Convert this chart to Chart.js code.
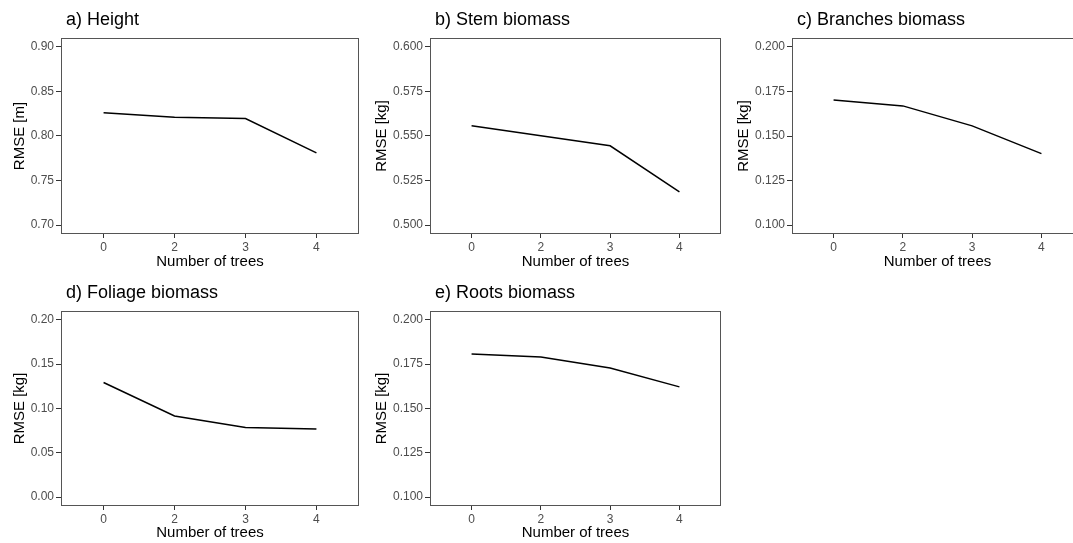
<!DOCTYPE html>
<html>
<head>
<meta charset="utf-8">
<script src="https://cdn.jsdelivr.net/npm/chart.js@4"></script>
<style>
html,body{margin:0;padding:0;background:#fff;width:1073px;height:543px;overflow:hidden;}
#wrap{position:relative;width:1073px;height:543px;overflow:hidden;}
canvas{position:absolute;}
</style>
</head>
<body>
<div id="wrap"></div>
<script>
// ---- data ----
const categories = ['0', '2', '3', '4'];

const heightRmse   = [0.826, 0.821, 0.8196, 0.781];
const stemRmse     = [0.5557, 0.5501, 0.5445, 0.5187];
const branchesRmse = [0.1702, 0.1669, 0.1557, 0.1401];
const foliageRmse  = [0.1293, 0.0916, 0.0787, 0.0768];
const rootsRmse    = [0.1808, 0.1790, 0.1728, 0.1622];

const heightTicks   = ['0.70', '0.75', '0.80', '0.85', '0.90'];
const stemTicks     = ['0.500', '0.525', '0.550', '0.575', '0.600'];
const branchesTicks = ['0.100', '0.125', '0.150', '0.175', '0.200'];
const foliageTicks  = ['0.00', '0.05', '0.10', '0.15', '0.20'];
const rootsTicks    = ['0.100', '0.125', '0.150', '0.175', '0.200'];

const panelTitles = ['a) Height', 'b) Stem biomass', 'c) Branches biomass', 'd) Foliage biomass', 'e) Roots biomass'];
const yTitles = ['RMSE [m]', 'RMSE [kg]', 'RMSE [kg]', 'RMSE [kg]', 'RMSE [kg]'];
const xTitle = 'Number of trees';

// ---- layout (positions only) ----
const FONT = "'Liberation Sans', Arial, sans-serif";
const panels = [
  {values: heightRmse,   ticks: heightTicks,   left: 0,   top: 0,   w: 360, h: 275, yW: 61, padTop: 38, padRight: 1, xTitlePad: 4, yTitlePad: 11},
  {values: stemRmse,     ticks: stemTicks,     left: 365, top: 0,   w: 357, h: 275, yW: 65, padTop: 38, padRight: 1, xTitlePad: 4, yTitlePad: 8},
  {values: branchesRmse, ticks: branchesTicks, left: 725, top: 0,   w: 360, h: 275, yW: 67, padTop: 38, padRight: 2, xTitlePad: 4, yTitlePad: 10},
  {values: foliageRmse,  ticks: foliageTicks,  left: 0,   top: 272, w: 360, h: 275, yW: 61, padTop: 39, padRight: 1, xTitlePad: 5, yTitlePad: 11},
  {values: rootsRmse,    ticks: rootsTicks,    left: 365, top: 272, w: 357, h: 275, yW: 65, padTop: 39, padRight: 1, xTitlePad: 5, yTitlePad: 8}
];
const X_AXIS_H = 41;

const boxAndTitle = {
  id: 'boxAndTitle',
  afterDatasetsDraw(chart) {
    const {ctx, chartArea: a} = chart;
    ctx.save();
    ctx.strokeStyle = '#555';
    ctx.lineWidth = 1;
    ctx.strokeRect(a.left + 0.5, a.top + 0.5, a.right - a.left - 1, a.bottom - a.top - 1);
    ctx.restore();
  },
  afterDraw(chart) {
    const {ctx, chartArea: a} = chart;
    ctx.save();
    ctx.font = '18px ' + FONT;
    ctx.fillStyle = '#000';
    ctx.textBaseline = 'middle';
    ctx.textAlign = 'left';
    ctx.fillText(chart.options.plugins.boxAndTitle.text, a.left + 5, a.top - 18);
    ctx.restore();
  }
};

const wrap = document.getElementById('wrap');

panels.forEach((p, k) => {
  const c = document.createElement('canvas');
  c.width = p.w; c.height = p.h;
  c.style.left = p.left + 'px'; c.style.top = p.top + 'px';
  c.style.width = p.w + 'px'; c.style.height = p.h + 'px';
  wrap.appendChild(c);

  const tickVals = p.ticks.map(Number);
  const lo = tickVals[0], hi = tickVals[tickVals.length - 1];
  const ext = (hi - lo) * 0.05;

  new Chart(c, {
    type: 'line',
    data: {
      datasets: [{
        data: p.values.map((v, i) => ({x: i + 1, y: v})),
        borderColor: '#000',
        borderWidth: 1.5,
        pointRadius: 0,
        tension: 0,
        fill: false
      }]
    },
    plugins: [boxAndTitle],
    options: {
      responsive: false,
      animation: false,
      layout: {padding: {top: p.padTop, right: p.padRight, bottom: 0, left: 0}},
      plugins: {
        legend: {display: false},
        tooltip: {enabled: false},
        boxAndTitle: {text: panelTitles[k]}
      },
      scales: {
        x: {
          type: 'linear',
          min: 0.4, max: 4.6,
          afterBuildTicks: s => { s.ticks = categories.map((_, i) => ({value: i + 1})); },
          afterFit: s => { s.height = X_AXIS_H; },
          ticks: {
            autoSkip: false, maxRotation: 0, minRotation: 0,
            padding: 2,
            color: '#4D4D4D',
            font: {family: FONT, size: 12},
            callback: (v, i) => categories[i]
          },
          grid: {drawOnChartArea: false, drawTicks: true, tickLength: 4, tickColor: '#333', lineWidth: 1},
          border: {display: false},
          title: {display: true, text: xTitle, color: '#000', font: {family: FONT, size: 15}, padding: {top: 0, bottom: p.xTitlePad}}
        },
        y: {
          type: 'linear',
          min: lo - ext, max: hi + ext,
          afterBuildTicks: s => { s.ticks = tickVals.map(v => ({value: v})); },
          afterFit: s => { s.width = p.yW; },
          ticks: {
            autoSkip: false,
            padding: 2,
            color: '#4D4D4D',
            font: {family: FONT, size: 12},
            callback: (v, i) => p.ticks[i]
          },
          grid: {drawOnChartArea: false, drawTicks: true, tickLength: 5, tickColor: '#333', lineWidth: 1},
          border: {display: false},
          title: {display: true, text: yTitles[k], color: '#000', font: {family: FONT, size: 15}, padding: {top: p.yTitlePad, bottom: 0}}
        }
      }
    }
  });
});
</script>
</body>
</html>
